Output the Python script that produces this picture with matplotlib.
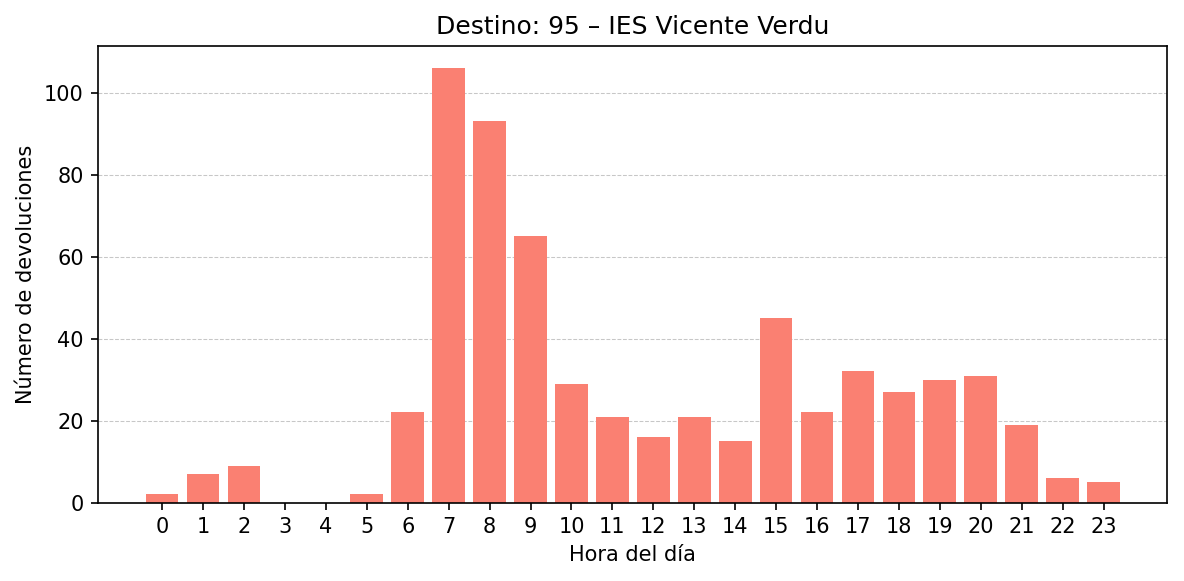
import matplotlib.pyplot as plt

hours = list(range(24))
devoluciones = [2, 7, 9, 0, 0, 2, 22, 106, 93, 65, 29, 21, 16, 21, 15, 45,
                22, 32, 27, 30, 31, 19, 6, 5]

fig, ax = plt.subplots(figsize=(1184 / 150, 581 / 150), dpi=150)
ax.bar(hours, devoluciones, color='salmon', zorder=2)
ax.set_title('Destino: 95 – IES Vicente Verdu')
ax.set_xlabel('Hora del día')
ax.set_ylabel('Número de devoluciones')
ax.set_xticks(hours)
ax.set_xlim(-1.56, 24.56)
ax.grid(axis='y', linestyle='--', linewidth=0.5, alpha=0.7, zorder=0)
fig.subplots_adjust(left=0.083, right=0.986, top=0.92, bottom=0.135)
fig.savefig('out.png', dpi=150)
